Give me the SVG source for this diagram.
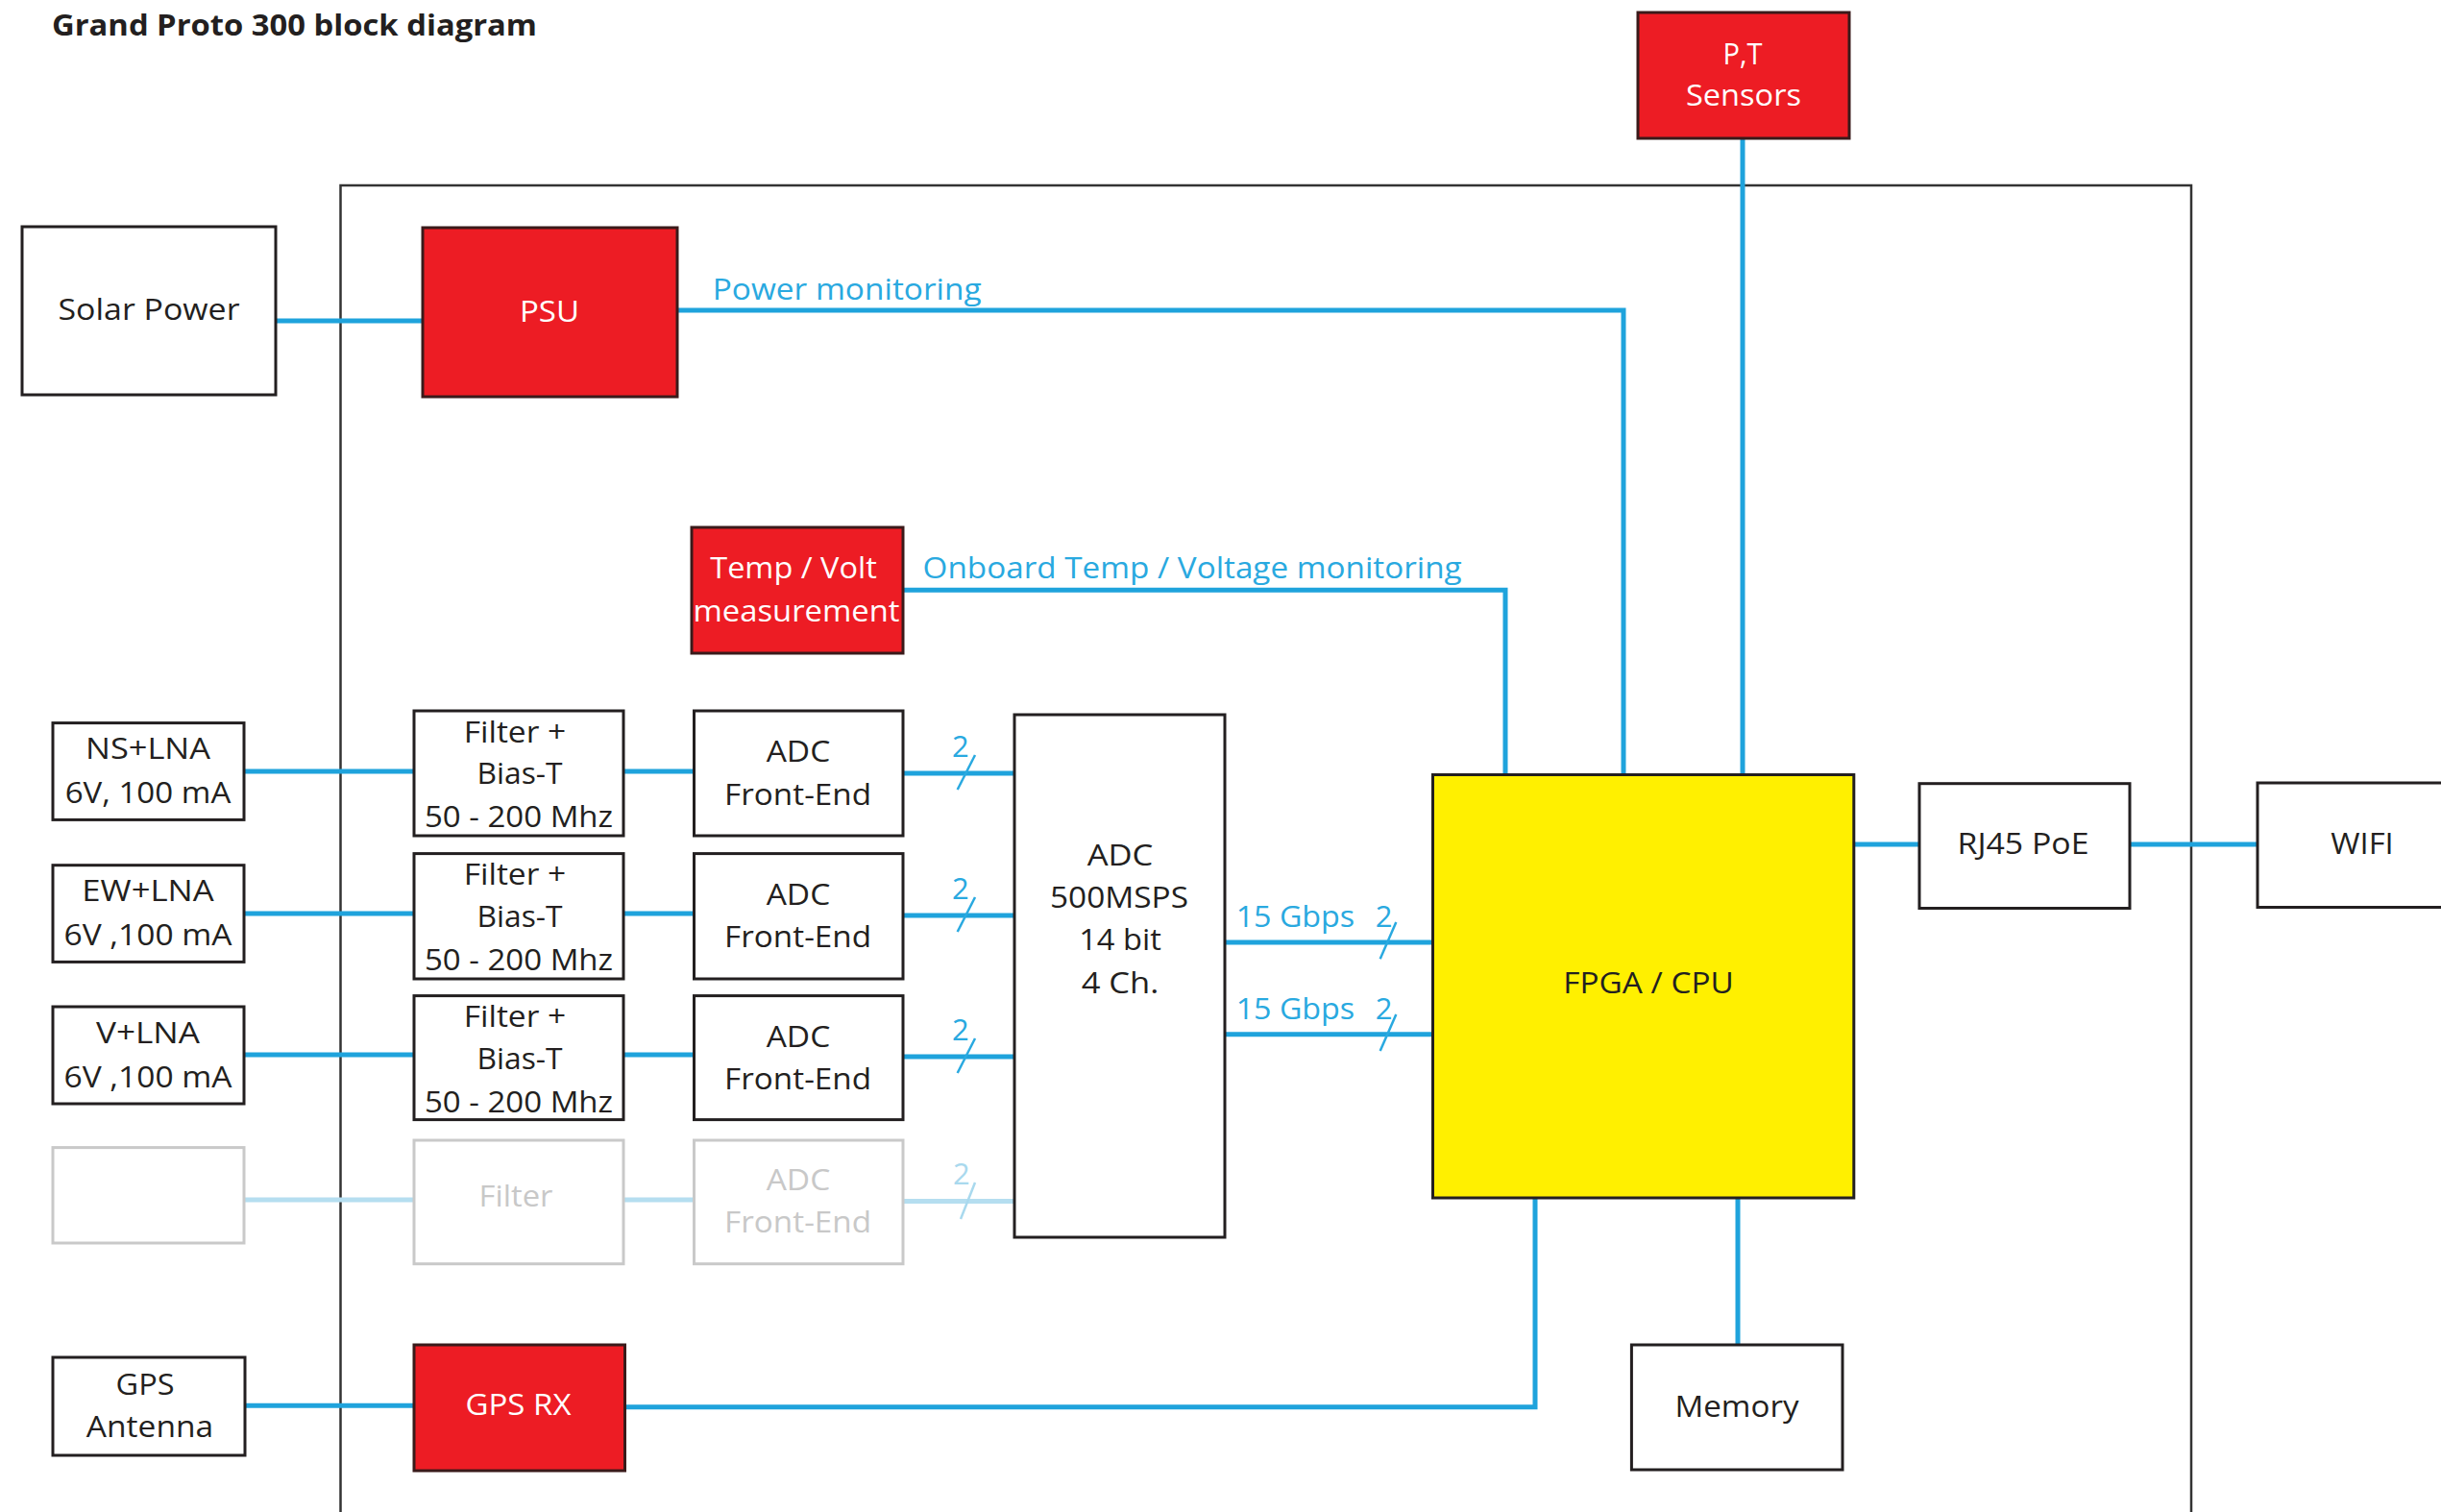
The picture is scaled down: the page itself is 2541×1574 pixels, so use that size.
<svg xmlns="http://www.w3.org/2000/svg" width="2541" height="1574" viewBox="0 0 2541 1574">
<style>
.bg{fill:#fff}
.frame{fill:none;stroke:#333;stroke-width:2.5}
.box{fill:#fff;stroke:#231F20;stroke-width:3}
.red{fill:#ED1C24;stroke:#3A1A1A;stroke-width:3}
.yel{fill:#FFF000;stroke:#231F20;stroke-width:3}
.faded{fill:#fff;stroke:#C9C9C9;stroke-width:3}
.t{font-family:"Open Sans","Liberation Sans",sans-serif;font-size:31px;fill:#231F20;text-anchor:middle}
.tw{fill:#FFFFFF}
.tb{fill:#29A9E0;text-anchor:start}
.tf{fill:#C8C8C8}
.tfb{fill:#A9D9EE}
.title{font-family:"Open Sans","Liberation Sans",sans-serif;font-size:31px;font-weight:bold;fill:#231F20}
.ln{stroke:#1FA3DC;stroke-width:5;fill:none}
.lf{stroke:#B5DEF0;stroke-width:5;fill:none}
.sl{stroke:#29A9E0;stroke-width:2.5}
.slf{stroke:#A9D9EE;stroke-width:2.5}
</style>
<rect class="bg" x="0" y="0" width="2541" height="1574"/>
<text class="title" x="54" y="37" textLength="505" lengthAdjust="spacingAndGlyphs">Grand Proto 300 block diagram</text>
<rect id="board" class="frame" x="354.5" y="193" width="1926.5" height="1400"/>

<g id="connectors">
  <path class="ln" d="M287,334 H440"/>
  <path class="ln" d="M705,323 H1690 V806.5"/>
  <path class="ln" d="M940,614.3 H1567 V806.5"/>
  <path class="ln" d="M1814,144 V806.5"/>
  <path class="ln" d="M254,803 H431"/>
  <path class="ln" d="M649,803 H722.5"/>
  <path class="ln" d="M940,805 H1056"/>
  <path class="ln" d="M254,951 H431"/>
  <path class="ln" d="M649,951 H722.5"/>
  <path class="ln" d="M940,953 H1056"/>
  <path class="ln" d="M254,1098 H431"/>
  <path class="ln" d="M649,1098 H722.5"/>
  <path class="ln" d="M940,1100 H1056"/>
  <path class="lf" d="M254,1249 H431"/>
  <path class="lf" d="M649,1249 H722.5"/>
  <path class="lf" d="M940,1250.6 H1056"/>
  <path class="ln" d="M1275,981 H1491.5"/>
  <path class="ln" d="M1275,1076.7 H1491.5"/>
  <path class="ln" d="M1929.8,879 H1998"/>
  <path class="ln" d="M2217,879 H2350"/>
  <path class="ln" d="M255,1463.3 H431"/>
  <path class="ln" d="M650.5,1464.7 H1598 V1247"/>
  <path class="ln" d="M1809,1247 V1400"/>
  <!-- bus width markers -->
  <line class="sl" x1="1015" y1="786" x2="996.7" y2="822"/>
  <text class="t tb" x="991" y="788" font-size="30">2</text>
  <line class="sl" x1="1015" y1="934" x2="996.7" y2="970"/>
  <text class="t tb" x="991" y="936" font-size="30">2</text>
  <line class="sl" x1="1015" y1="1081" x2="996.7" y2="1117"/>
  <text class="t tb" x="991" y="1083" font-size="30">2</text>
  <line class="slf" x1="1015" y1="1231" x2="1000" y2="1269"/>
  <text class="t tb tfb" x="992" y="1233" font-size="30">2</text>
  <line class="sl" x1="1453.3" y1="960" x2="1436.7" y2="998.3"/>
  <text class="t tb" x="1431.7" y="965" font-size="30">2</text>
  <line class="sl" x1="1453.3" y1="1056" x2="1436.7" y2="1094"/>
  <text class="t tb" x="1431.7" y="1061" font-size="30">2</text>
  <text class="t tb" x="741.7" y="311.7" textLength="280" lengthAdjust="spacingAndGlyphs">Power monitoring</text>
  <text class="t tb" x="960.6" y="601.7" textLength="561" lengthAdjust="spacingAndGlyphs">Onboard Temp / Voltage monitoring</text>
  <text class="t tb" x="1286.7" y="965" textLength="123.5" lengthAdjust="spacingAndGlyphs">15 Gbps</text>
  <text class="t tb" x="1286.7" y="1060.7" textLength="123.5" lengthAdjust="spacingAndGlyphs">15 Gbps</text>
</g>

<g id="solar">
  <rect class="box" x="23" y="236" width="264" height="175"/>
  <text class="t" x="155" y="333" textLength="189" lengthAdjust="spacingAndGlyphs">Solar Power</text>
</g>
<g id="psu">
  <rect class="red" x="440" y="237" width="265" height="176"/>
  <text class="t tw" x="572" y="335" textLength="62" lengthAdjust="spacingAndGlyphs">PSU</text>
</g>
<g id="pt-sensors">
  <rect class="red" x="1705" y="13" width="220" height="131"/>
  <text class="t tw" x="1814" y="67" textLength="41" lengthAdjust="spacingAndGlyphs">P,T</text>
  <text class="t tw" x="1815" y="110" textLength="120" lengthAdjust="spacingAndGlyphs">Sensors</text>
</g>
<g id="temp-volt">
  <rect class="red" x="720" y="549" width="220" height="131"/>
  <text class="t tw" x="826" y="601.7" textLength="173.5" lengthAdjust="spacingAndGlyphs">Temp / Volt</text>
  <text class="t tw" x="829" y="646.7" textLength="215" lengthAdjust="spacingAndGlyphs">measurement</text>
</g>

<g id="ns-lna">
  <rect class="box" x="55" y="752.6" width="199" height="100.8"/>
  <text class="t" x="154" y="790" textLength="130" lengthAdjust="spacingAndGlyphs">NS+LNA</text>
  <text class="t" x="154" y="836" textLength="172.6" lengthAdjust="spacingAndGlyphs">6V, 100 mA</text>
</g>
<g id="ew-lna">
  <rect class="box" x="55" y="900.7" width="199" height="100.7"/>
  <text class="t" x="154" y="938" textLength="137.5" lengthAdjust="spacingAndGlyphs">EW+LNA</text>
  <text class="t" x="154" y="984" textLength="175" lengthAdjust="spacingAndGlyphs">6V ,100 mA</text>
</g>
<g id="v-lna">
  <rect class="box" x="55" y="1048" width="199" height="101"/>
  <text class="t" x="154" y="1085.5" textLength="108" lengthAdjust="spacingAndGlyphs">V+LNA</text>
  <text class="t" x="154" y="1131.5" textLength="175" lengthAdjust="spacingAndGlyphs">6V ,100 mA</text>
</g>
<g id="spare-input">
  <rect class="faded" x="55" y="1194.6" width="199" height="99.4"/>
</g>

<g id="filter-1">
  <rect class="box" x="431" y="740" width="218" height="130"/>
  <text class="t" x="536" y="772.5" textLength="106.6" lengthAdjust="spacingAndGlyphs">Filter +</text>
  <text class="t" x="541" y="816" textLength="89" lengthAdjust="spacingAndGlyphs">Bias-T</text>
  <text class="t" x="540" y="861" textLength="196" lengthAdjust="spacingAndGlyphs">50 - 200 Mhz</text>
</g>
<g id="filter-2">
  <rect class="box" x="431" y="888.6" width="218" height="130.4"/>
  <text class="t" x="536" y="921" textLength="106.6" lengthAdjust="spacingAndGlyphs">Filter +</text>
  <text class="t" x="541" y="964.6" textLength="89" lengthAdjust="spacingAndGlyphs">Bias-T</text>
  <text class="t" x="540" y="1009.6" textLength="196" lengthAdjust="spacingAndGlyphs">50 - 200 Mhz</text>
</g>
<g id="filter-3">
  <rect class="box" x="431" y="1036.6" width="218" height="129"/>
  <text class="t" x="536" y="1069" textLength="106.6" lengthAdjust="spacingAndGlyphs">Filter +</text>
  <text class="t" x="541" y="1112.6" textLength="89" lengthAdjust="spacingAndGlyphs">Bias-T</text>
  <text class="t" x="540" y="1157.6" textLength="196" lengthAdjust="spacingAndGlyphs">50 - 200 Mhz</text>
</g>
<g id="filter-4">
  <rect class="faded" x="431" y="1187" width="218" height="128.7"/>
  <text class="t tf" x="537" y="1255.6" textLength="77" lengthAdjust="spacingAndGlyphs">Filter</text>
</g>

<g id="adc-fe-1">
  <rect class="box" x="722.5" y="740" width="217.5" height="130"/>
  <text class="t" x="831" y="793" textLength="66.6" lengthAdjust="spacingAndGlyphs">ADC</text>
  <text class="t" x="830.6" y="837.6" textLength="153" lengthAdjust="spacingAndGlyphs">Front-End</text>
</g>
<g id="adc-fe-2">
  <rect class="box" x="722.5" y="888.6" width="217.5" height="130.4"/>
  <text class="t" x="831" y="941.6" textLength="66.6" lengthAdjust="spacingAndGlyphs">ADC</text>
  <text class="t" x="830.6" y="986.2" textLength="153" lengthAdjust="spacingAndGlyphs">Front-End</text>
</g>
<g id="adc-fe-3">
  <rect class="box" x="722.5" y="1036.6" width="217.5" height="129"/>
  <text class="t" x="831" y="1089.6" textLength="66.6" lengthAdjust="spacingAndGlyphs">ADC</text>
  <text class="t" x="830.6" y="1134.2" textLength="153" lengthAdjust="spacingAndGlyphs">Front-End</text>
</g>
<g id="adc-fe-4">
  <rect class="faded" x="722.5" y="1187" width="217.5" height="128.7"/>
  <text class="t tf" x="831" y="1239" textLength="66.6" lengthAdjust="spacingAndGlyphs">ADC</text>
  <text class="t tf" x="830.6" y="1282.5" textLength="153" lengthAdjust="spacingAndGlyphs">Front-End</text>
</g>

<g id="adc">
  <rect class="box" x="1056" y="744" width="219" height="544"/>
  <text class="t" x="1166" y="901" textLength="68.7" lengthAdjust="spacingAndGlyphs">ADC</text>
  <text class="t" x="1165" y="945.4" textLength="144" lengthAdjust="spacingAndGlyphs">500MSPS</text>
  <text class="t" x="1166" y="989" textLength="85.6" lengthAdjust="spacingAndGlyphs">14 bit</text>
  <text class="t" x="1166" y="1033.7" textLength="80.7" lengthAdjust="spacingAndGlyphs">4 Ch.</text>
</g>

<g id="fpga">
  <rect class="yel" x="1491.5" y="806.5" width="438.3" height="440.5"/>
  <text class="t" x="1716" y="1033.7" textLength="177.5" lengthAdjust="spacingAndGlyphs">FPGA / CPU</text>
</g>
<g id="rj45">
  <rect class="box" x="1998" y="815.7" width="219" height="129.8"/>
  <text class="t" x="2106" y="889" textLength="137" lengthAdjust="spacingAndGlyphs">RJ45 PoE</text>
</g>
<g id="wifi">
  <rect class="box" x="2350" y="815" width="220" height="129.5"/>
  <text class="t" x="2459" y="889" textLength="65.5" lengthAdjust="spacingAndGlyphs">WIFI</text>
</g>
<g id="memory">
  <rect class="box" x="1698.4" y="1400" width="219.6" height="130"/>
  <text class="t" x="1808" y="1475" textLength="129" lengthAdjust="spacingAndGlyphs">Memory</text>
</g>
<g id="gps-antenna">
  <rect class="box" x="55" y="1413" width="200" height="102"/>
  <text class="t" x="151" y="1451.7" textLength="61" lengthAdjust="spacingAndGlyphs">GPS</text>
  <text class="t" x="156" y="1496" textLength="132.4" lengthAdjust="spacingAndGlyphs">Antenna</text>
</g>
<g id="gps-rx">
  <rect class="red" x="431" y="1400" width="219.5" height="131"/>
  <text class="t tw" x="539.5" y="1473" textLength="110" lengthAdjust="spacingAndGlyphs">GPS RX</text>
</g>
</svg>
